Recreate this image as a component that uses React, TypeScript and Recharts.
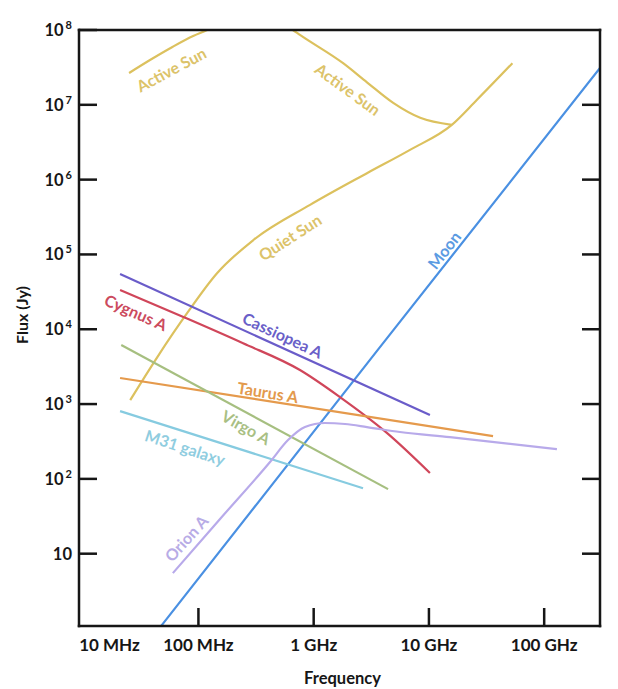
import { LineChart, Line, XAxis, YAxis, ReferenceDot } from 'recharts';

// frequency in Hz, flux density in Jy
const activeSunF = [2.5e7, 3.8e7, 6.0e7, 9.0e7, 1.19e8, 2.8e8, 6.6e8, 7.6e8, 1.8e9, 2.9e9, 4.9e9, 8.4e9, 1.58e10];
const activeSunS = [2.66e7, 3.97e7, 5.98e7, 8.3e7, 1.0e8, 2.0e8, 1.0e8, 8.6e7, 3.6e7, 2.0e7, 1.06e7, 6.7e6, 5.4e6];

const quietSunF = [2.56e7, 4.4e7, 8.0e7, 1.45e8, 3.0e8, 9.3e8, 2.9e9, 6.85e9, 1.58e10, 2.6e10, 5.3e10];
const quietSunS = [1.13e3, 4.25e3, 1.65e4, 5.6e4, 1.56e5, 4.6e5, 1.22e6, 2.5e6, 5.4e6, 1.16e7, 3.6e7];

const moonF = [4.75e7, 3.6e9, 3.05e11];
const moonS = [1.08, 5.3e3, 3.1e7];

const cassAF = [2.09e7, 1.02e10];
const cassAS = [5.47e4, 713];

const cygAF = [2.09e7, 7.4e7, 2.44e8, 7.6e8, 1.69e9, 4.34e9, 1.02e10];
const cygAS = [3.34e4, 1.46e4, 6.5e3, 2.85e3, 1.24e3, 409, 120];

const tauAF = [2.09e7, 3.6e10];
const tauAS = [2.23e3, 373];

const virAF = [2.14e7, 4.42e9];
const virAS = [6.15e3, 73];

const m31F = [2.09e7, 2.68e9];
const m31S = [805, 75];

const oriAF = [6.0e7, 1.54e8, 4.18e8, 5.99e8, 8.4e8, 1.25e9, 1.87e9, 2.9e9, 5.6e9, 1.52e10, 1.29e11];
const oriAS = [5.5, 29.1, 168, 330, 493, 558, 541, 493, 423, 362, 250];

const freqTicks = [1e7, 1e8, 1e9, 1e10, 1e11];
const freqLabels = ['10 MHz', '100 MHz', '1 GHz', '10 GHz', '100 GHz'];
const waveTicks = [3e7, 3e8, 3e9, 3e10, 3e11];
const waveLabels = ['10 m', '1 m', '10 cm', '1 cm', '1 mm'];
const fluxTicks = [10, 1e2, 1e3, 1e4, 1e5, 1e6, 1e7, 1e8];

const pts = (f: number[], s: number[]) => f.map((v, i) => ({ f: v, s: s[i] }));

const series = [
  { name: 'Active Sun', data: pts(activeSunF, activeSunS), color: '#dcc15e' },
  { name: 'Quiet Sun', data: pts(quietSunF, quietSunS), color: '#dcc15e' },
  { name: 'Moon', data: pts(moonF, moonS), color: '#4a90e2' },
  { name: 'Cassiopea A', data: pts(cassAF, cassAS), color: '#6a5cc9' },
  { name: 'Cygnus A', data: pts(cygAF, cygAS), color: '#d0465a' },
  { name: 'Taurus A', data: pts(tauAF, tauAS), color: '#e59a4c' },
  { name: 'Virgo A', data: pts(virAF, virAS), color: '#a6bf80' },
  { name: 'M31 galaxy', data: pts(m31F, m31S), color: '#86cbe0' },
  { name: 'Orion A', data: pts(oriAF, oriAS), color: '#b8aaea' },
];

const annotations = [
  { text: 'Active Sun', f: 5.8e7, s: 3.0e7, angle: -28, color: '#dcc36a' },
  { text: 'Active Sun', f: 1.99e9, s: 1.63e7, angle: 36, color: '#dcc36a' },
  { text: 'Quiet Sun', f: 6.2e8, s: 1.71e5, angle: -33, color: '#dcc36a' },
  { text: 'Moon', f: 1.35e10, s: 1.15e5, angle: -52, color: '#5b9be2' },
  { text: 'Cassiopea A', f: 5.4e8, s: 8.4e3, angle: 25, color: '#6a5fc8' },
  { text: 'Cygnus A', f: 2.88e7, s: 1.7e4, angle: 24, color: '#cc4b5e' },
  { text: 'Taurus A', f: 4.0e8, s: 1.45e3, angle: 9, color: '#e39a4d' },
  { text: 'Virgo A', f: 2.6e8, s: 493, angle: 29, color: '#a9bf84' },
  { text: 'M31 galaxy', f: 7.7e7, s: 266, angle: 18, color: '#8fcde0' },
  { text: 'Orion A', f: 7.8e7, s: 16.2, angle: -48, color: '#b8ace6' },
];

const AX = '#161616';
const FONT = 'Lato, "Open Sans", sans-serif';

const FluxTick = ({ x, y, payload }: any) => {
  const e = Math.round(Math.log10(payload.value));
  return (
    <g>
      <line x1={x} y1={y} x2={x + 18} y2={y} stroke={AX} strokeWidth={2.5} />
      <text x={x - 7} y={y + 6} textAnchor="end" fontFamily={FONT} fontWeight={700} fontSize={16.5} fill={AX}>
        10
        {e > 1 && (
          <tspan dx={2} dy={-7} fontSize={11}>
            {e}
          </tspan>
        )}
      </text>
    </g>
  );
};

const RightTick = ({ x, y, payload }: any) =>
  payload.value < 1e8 ? <line x1={x - 18} y1={y} x2={x} y2={y} stroke={AX} strokeWidth={2.5} /> : <g />;

const FreqTick = ({ x, y, payload }: any) => {
  const i = freqTicks.indexOf(payload.value);
  const first = i === 0;
  return (
    <g>
      {!first && <line x1={x} y1={y} x2={x} y2={y - 18} stroke={AX} strokeWidth={2.5} />}
      <text x={first ? x - 4 : x} y={y + 25} textAnchor={first ? 'start' : 'middle'} fontFamily={FONT} fontWeight={700} fontSize={17} fill={AX}>
        {freqLabels[i]}
      </text>
    </g>
  );
};

const WaveTick = ({ x, y, payload }: any) => {
  const i = waveTicks.indexOf(payload.value);
  const last = i === waveTicks.length - 1;
  return (
    <g>
      {!last && <line x1={x} y1={y} x2={x} y2={y + 18} stroke={AX} strokeWidth={2.5} />}
      <text x={x} y={y - 8} textAnchor="middle" fontFamily={FONT} fontWeight={700} fontSize={17} fill={AX}>
        {waveLabels[i]}
      </text>
    </g>
  );
};

const axisLine = { stroke: AX, strokeWidth: 2.5, strokeLinecap: 'square' as const };

export default function App() {
  return (
    <LineChart width={602} height={681} margin={{ top: 0, right: 0, bottom: 0, left: 0 }}>
      <XAxis
        xAxisId="f"
        dataKey="f"
        type="number"
        scale="log"
        domain={[9.2e6, 3.05e11]}
        allowDataOverflow
        ticks={freqTicks}
        interval={0}
        height={63}
        tickSize={0}
        tickMargin={0}
        tickLine={false}
        axisLine={axisLine}
        tick={<FreqTick />}
        label={{
          content: ({ viewBox }: any) => (
            <text x={viewBox.x + viewBox.width / 2 + 3} y={viewBox.y + 58} textAnchor="middle" fontFamily={FONT} fontWeight={700} fontSize={16.5} fill={AX}>
              Frequency
            </text>
          ),
        }}
      />
      <XAxis
        xAxisId="w"
        orientation="top"
        type="number"
        scale="log"
        domain={[9.2e6, 3.05e11]}
        allowDataOverflow
        ticks={waveTicks}
        interval={0}
        height={22}
        tickSize={0}
        tickMargin={0}
        tickLine={false}
        axisLine={axisLine}
        tick={<WaveTick />}
      />
      <YAxis
        yAxisId="l"
        type="number"
        scale="log"
        domain={[1.08, 1e8]}
        allowDataOverflow
        ticks={fluxTicks}
        interval={0}
        width={71}
        tickSize={0}
        tickMargin={0}
        tickLine={false}
        axisLine={axisLine}
        tick={<FluxTick />}
        label={{
          content: ({ viewBox }: any) => {
            const cx = viewBox.x + 13;
            const cy = viewBox.y + viewBox.height / 2 - 13;
            return (
              <text x={cx} y={cy} transform={`rotate(-90 ${cx} ${cy})`} textAnchor="middle" dominantBaseline="central" fontFamily={FONT} fontWeight={700} fontSize={16} fill={AX}>
                Flux (Jy)
              </text>
            );
          },
        }}
      />
      <YAxis
        yAxisId="r"
        orientation="right"
        type="number"
        scale="log"
        domain={[1.08, 1e8]}
        allowDataOverflow
        ticks={fluxTicks}
        interval={0}
        width={10}
        tickSize={0}
        tickMargin={0}
        tickLine={false}
        axisLine={axisLine}
        tick={<RightTick />}
      />
      {series.map((s) => (
        <Line
          key={s.name}
          xAxisId="f"
          yAxisId="l"
          data={s.data}
          dataKey="s"
          type="monotone"
          stroke={s.color}
          strokeWidth={2.2}
          dot={false}
          activeDot={false}
          isAnimationActive={false}
        />
      ))}
      {annotations.map((a, i) => (
        <ReferenceDot
          key={i}
          xAxisId="f"
          yAxisId="l"
          x={a.f}
          y={a.s}
          r={0}
          ifOverflow="visible"
          shape={(p: any) => (
            <text
              x={p.cx}
              y={p.cy}
              transform={`rotate(${a.angle} ${p.cx} ${p.cy})`}
              textAnchor="middle"
              dominantBaseline="central"
              fontFamily={FONT}
              fontWeight={700}
              fontSize={16}
              fill={a.color}
            >
              {a.text}
            </text>
          )}
        />
      ))}
    </LineChart>
  );
}
